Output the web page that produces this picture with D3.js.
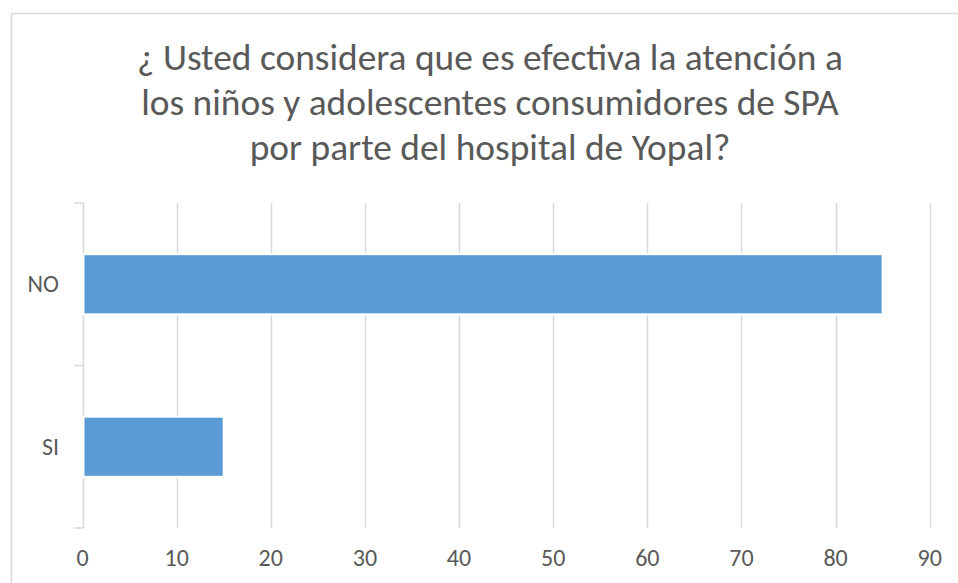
<!DOCTYPE html>
<html>
<head>
<meta charset="utf-8">
<script src="https://cdn.jsdelivr.net/npm/d3@7"></script>
<style>
  body { margin: 0; background: #fff; }
  svg { display: block; font-family: Calibri, Carlito, 'Open Sans', sans-serif; }
</style>
</head>
<body>
<svg id="chart" width="958" height="583"></svg>
<script>
// chart data
const categories = ['NO', 'SI']
const values = [85, 15]
const xTicks = [0, 10, 20, 30, 40, 50, 60, 70, 80, 90]
const titleLines = [
  '¿ Usted considera que es efectiva la atención a',
  'los niños y adolescentes consumidores de SPA',
  'por parte del hospital de Yopal?'
]

const svg = d3.select('#chart')
const textColor = '#595959'
const gridColor = '#d9d9d9'

// outer chart border (right/bottom edges fall outside the picture)
svg.append('rect')
  .attr('x', 11.5)
  .attr('y', 13.5)
  .attr('width', 960)
  .attr('height', 600)
  .attr('fill', '#fff')
  .attr('stroke', gridColor)
  .attr('stroke-width', 1.5)

const plot = { left: 82.5, right: 929.7, top: 203, bottom: 528 }

const xScale = d3.scaleLinear()
  .domain([0, 90])
  .range([plot.left, plot.right])

const yScale = d3.scaleBand()
  .domain(categories)
  .range([plot.top, plot.bottom])
  .paddingInner(0.63)
  .paddingOuter(0.315)

// vertical grid lines
svg.append('g')
  .selectAll('line')
  .data(xTicks.filter(t => t > 0))
  .enter()
  .append('line')
  .attr('x1', d => Math.round(xScale(d)) + 0.5)
  .attr('x2', d => Math.round(xScale(d)) + 0.5)
  .attr('y1', plot.top)
  .attr('y2', plot.bottom)
  .attr('stroke', gridColor)
  .attr('stroke-width', 1.5)

// category axis with outward ticks at band edges
const axisX = Math.round(xScale(0)) + 0.5
svg.append('line')
  .attr('x1', axisX).attr('x2', axisX)
  .attr('y1', plot.top).attr('y2', plot.bottom)
  .attr('stroke', gridColor)
  .attr('stroke-width', 1.5)

const edges = d3.range(categories.length + 1).map(i => plot.top + i * (plot.bottom - plot.top) / categories.length)
svg.append('g')
  .selectAll('line')
  .data(edges)
  .enter()
  .append('line')
  .attr('x1', axisX - 9)
  .attr('x2', axisX)
  .attr('y1', d => d)
  .attr('y2', d => d)
  .attr('stroke', gridColor)
  .attr('stroke-width', 1.5)

// bars
svg.append('g')
  .selectAll('rect')
  .data(categories.map((c, i) => ({ cat: c, value: values[i] })))
  .enter()
  .append('rect')
  .attr('x', xScale(0) + 1)
  .attr('y', d => yScale(d.cat))
  .attr('width', d => xScale(d.value) - xScale(0) - 1)
  .attr('height', yScale.bandwidth())
  .attr('fill', '#5b9bd5')
  .attr('stroke', '#fff')
  .attr('stroke-width', 2)

// category labels
svg.append('g')
  .selectAll('text')
  .data(categories)
  .enter()
  .append('text')
  .attr('x', 59)
  .attr('y', d => yScale(d) + yScale.bandwidth() / 2)
  .attr('dy', '0.33em')
  .attr('text-anchor', 'end')
  .attr('fill', textColor)
  .style('font-size', '24px')
  .text(d => d)

// value axis labels
svg.append('g')
  .selectAll('text')
  .data(xTicks)
  .enter()
  .append('text')
  .attr('x', d => xScale(d))
  .attr('y', 566)
  .attr('text-anchor', 'middle')
  .attr('fill', textColor)
  .style('font-size', '24px')
  .text(d => d)

// title, fitted so the first line spans the same width as the original
const title = svg.append('g')
  .selectAll('text')
  .data(titleLines)
  .enter()
  .append('text')
  .attr('x', 490)
  .attr('y', (d, i) => 69.5 + i * 45)
  .attr('text-anchor', 'middle')
  .attr('fill', textColor)
  .style('font-size', '36px')
  .text(d => d)

const firstWidth = title.node().getComputedTextLength()
title.style('font-size', (36 * 706 / firstWidth) + 'px')
</script>
</body>
</html>
